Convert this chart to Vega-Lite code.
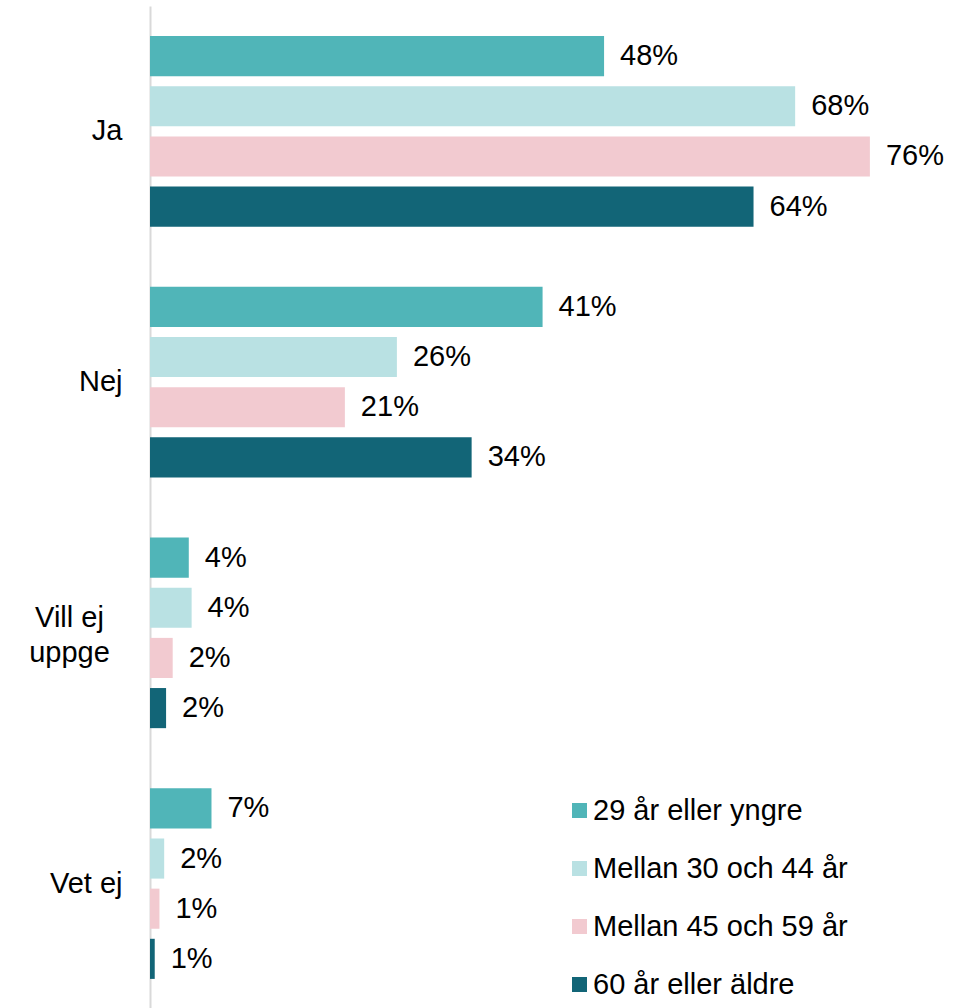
{
  "$schema": "https://vega.github.io/schema/vega-lite/v6.json",
  "width": 823,
  "height": 1003,
  "autosize": {"type": "none"},
  "padding": {"left": 150, "top": 6, "right": 0, "bottom": 0},
  "background": "white",
  "config": {
    "view": {"stroke": null},
    "font": "Liberation Sans",
    "text": {"font": "Liberation Sans"}
  },
  "data": {
    "values": [
      {"svar": "Ja", "grupp": "29 år eller yngre", "varde": 48.0, "etikett": "48%"},
      {"svar": "Ja", "grupp": "Mellan 30 och 44 år", "varde": 68.2, "etikett": "68%"},
      {"svar": "Ja", "grupp": "Mellan 45 och 59 år", "varde": 76.1, "etikett": "76%"},
      {"svar": "Ja", "grupp": "60 år eller äldre", "varde": 63.8, "etikett": "64%"},
      {"svar": "Nej", "grupp": "29 år eller yngre", "varde": 41.5, "etikett": "41%"},
      {"svar": "Nej", "grupp": "Mellan 30 och 44 år", "varde": 26.1, "etikett": "26%"},
      {"svar": "Nej", "grupp": "Mellan 45 och 59 år", "varde": 20.6, "etikett": "21%"},
      {"svar": "Nej", "grupp": "60 år eller äldre", "varde": 34.0, "etikett": "34%"},
      {"svar": "Vill ej uppge", "grupp": "29 år eller yngre", "varde": 4.1, "etikett": "4%"},
      {"svar": "Vill ej uppge", "grupp": "Mellan 30 och 44 år", "varde": 4.4, "etikett": "4%"},
      {"svar": "Vill ej uppge", "grupp": "Mellan 45 och 59 år", "varde": 2.4, "etikett": "2%"},
      {"svar": "Vill ej uppge", "grupp": "60 år eller äldre", "varde": 1.7, "etikett": "2%"},
      {"svar": "Vet ej", "grupp": "29 år eller yngre", "varde": 6.5, "etikett": "7%"},
      {"svar": "Vet ej", "grupp": "Mellan 30 och 44 år", "varde": 1.5, "etikett": "2%"},
      {"svar": "Vet ej", "grupp": "Mellan 45 och 59 år", "varde": 1.0, "etikett": "1%"},
      {"svar": "Vet ej", "grupp": "60 år eller äldre", "varde": 0.5, "etikett": "1%"}
    ]
  },
  "encoding": {
    "y": {
      "field": "svar",
      "type": "nominal",
      "sort": ["Ja", "Nej", "Vill ej uppge", "Vet ej"],
      "scale": {"padding": 0},
      "axis": {
        "title": null,
        "ticks": false,
        "domainColor": "#d9d9d9",
        "domainWidth": 2,
        "labelFontSize": 29,
        "labelColor": "#000000",
        "labelFont": "Liberation Sans",
        "labelPadding": {"condition": {"test": "datum.value == 'Vill ej uppge'", "value": 81}, "value": 28},
        "labelAlign": {"condition": {"test": "datum.value == 'Vill ej uppge'", "value": "center"}, "value": "right"},
        "labelOffset": {"condition": {"test": "datum.value == 'Vill ej uppge'", "value": -15}, "value": 0},
        "labelLineHeight": 35,
        "labelLimit": 0,
        "labelExpr": "datum.value == 'Vill ej uppge' ? ['Vill ej', 'uppge'] : datum.value"
      }
    },
    "yOffset": {
      "field": "grupp",
      "type": "nominal",
      "sort": ["29 år eller yngre", "Mellan 30 och 44 år", "Mellan 45 och 59 år", "60 år eller äldre"],
      "scale": {"paddingInner": 0.2, "paddingOuter": 0.6}
    },
    "x": {
      "field": "varde",
      "type": "quantitative",
      "scale": {"domain": [0, 87], "nice": false},
      "axis": null
    }
  },
  "layer": [
    {
      "mark": {"type": "bar"},
      "encoding": {
        "color": {
          "field": "grupp",
          "type": "nominal",
          "sort": ["29 år eller yngre", "Mellan 30 och 44 år", "Mellan 45 och 59 år", "60 år eller äldre"],
          "scale": {
            "domain": ["29 år eller yngre", "Mellan 30 och 44 år", "Mellan 45 och 59 år", "60 år eller äldre"],
            "range": ["#50B5B8", "#B9E1E3", "#F2CAD0", "#126577"]
          },
          "legend": {
            "title": null,
            "orient": "none",
            "legendX": 415,
            "legendY": 790,
            "symbolType": "square",
            "symbolSize": 225,
            "symbolStrokeWidth": 0,
            "labelFontSize": 29,
            "labelFont": "Liberation Sans",
            "labelColor": "#000000",
            "labelOffset": -1,
            "labelLimit": 0,
            "rowPadding": 28,
            "padding": 0
          }
        }
      }
    },
    {
      "mark": {"type": "text", "align": "left", "baseline": "middle", "dx": 16, "fontSize": 29, "color": "#000000"},
      "encoding": {
        "text": {"field": "etikett", "type": "nominal"}
      }
    }
  ]
}
